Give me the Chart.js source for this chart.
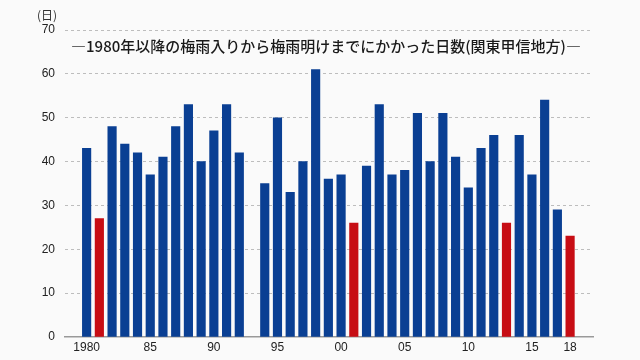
<!DOCTYPE html>
<html lang="ja">
<head>
<meta charset="utf-8">
<title>梅雨入りから梅雨明けまでの日数</title>
<script src="https://cdn.jsdelivr.net/npm/chart.js@4/dist/chart.umd.min.js"></script>
<style>
    html, body { margin: 0; padding: 0; background: #fafafa; }
    #wrap { width: 640px; height: 360px; }
</style>
</head>
<body>
<div id="wrap"><canvas id="rainy-chart" width="640" height="360"></canvas></div>
<script>
// Data - 1993 has no value (梅雨明け not specified)
const years = [
    1980, 1981, 1982, 1983, 1984, 1985, 1986, 1987, 1988, 1989,
    1990, 1991, 1992, 1993, 1994, 1995, 1996, 1997, 1998, 1999,
    2000, 2001, 2002, 2003, 2004, 2005, 2006, 2007, 2008, 2009,
    2010, 2011, 2012, 2013, 2014, 2015, 2016, 2017, 2018
];
const days = [
    43, 27, 48, 44, 42, 37, 41, 48, 53, 40,
    47, 53, 42, null, 35, 50, 33, 40, 61, 36,
    37, 26, 39, 53, 37, 38, 51, 40, 51, 41,
    34, 43, 46, 26, 46, 37, 54, 29, 23
];
const shortYears = [1981, 2001, 2013, 2018];   // shown in red

const xTickYears = [1980, 1985, 1990, 1995, 2000, 2005, 2010, 2015, 2018];
const xTickLabels = ['1980', '85', '90', '95', '00', '05', '10', '15', '18'];

const chartTitle = '―1980年以降の梅雨入りから梅雨明けまでにかかった日数(関東甲信地方)―';
const unitLabel = '(日)';

const BLUE = '#0a3f93';
const RED = '#c70d14';

// Build points, skip missing years
const points = [];
const colors = [];
years.forEach((y, i) => {
    if (days[i] === null) return;
    points.push({ x: y, y: days[i] });
    colors.push(shortYears.includes(y) ? RED : BLUE);
});

// Title + unit label drawn on the canvas
const textPlugin = {
    id: 'textPlugin',
    afterDraw(chart) {
        const ctx = chart.ctx;
        ctx.save();
        ctx.fillStyle = '#333';
        ctx.font = '12px "Noto Sans CJK JP", sans-serif';
        ctx.textAlign = 'left';
        ctx.textBaseline = 'middle';
        ctx.fillText(unitLabel, 37, 15);

        ctx.fillStyle = '#1a1a1a';
        ctx.font = '500 15px "Noto Sans CJK JP", sans-serif';
        ctx.textAlign = 'center';
        ctx.fillText(chartTitle, 326, 46);
        ctx.restore();
    }
};

const tickFont = { family: '"Liberation Sans", Arial, sans-serif', size: 12 };

new Chart(document.getElementById('rainy-chart'), {
    type: 'bar',
    data: {
        datasets: [{
            data: points,
            backgroundColor: colors,
            borderWidth: 0,
            barThickness: 8.5
        }]
    },
    options: {
        responsive: false,
        animation: false,
        layout: { padding: { top: 30, right: 47, bottom: 0, left: 0 } },
        plugins: {
            legend: { display: false },
            tooltip: { enabled: false }
        },
        scales: {
            x: {
                type: 'linear',
                offset: false,
                min: 1978.3,
                max: 2019.8,
                afterBuildTicks: scale => {
                    scale.ticks = xTickYears.map(v => ({ value: v }));
                },
                afterFit: scale => { scale.height = 23; },
                ticks: {
                    color: '#222',
                    font: tickFont,
                    padding: 3,
                    maxRotation: 0,
                    autoSkip: false,
                    callback: value => xTickLabels[xTickYears.indexOf(value)]
                },
                grid: { display: false, drawTicks: false },
                border: { display: true, color: '#999', width: 1.5 }
            },
            y: {
                min: 0,
                max: 70,
                afterFit: scale => { scale.width = 65; },
                ticks: {
                    stepSize: 10,
                    color: '#222',
                    font: tickFont,
                    padding: 10
                },
                grid: {
                    drawTicks: false,
                    color: ctx => ctx.tick && ctx.tick.value === 0 ? 'transparent' : '#bdbdbd',
                    lineWidth: 1
                },
                border: { display: false, dash: [3, 3] }
            }
        }
    },
    plugins: [textPlugin]
});
</script>
</body>
</html>
